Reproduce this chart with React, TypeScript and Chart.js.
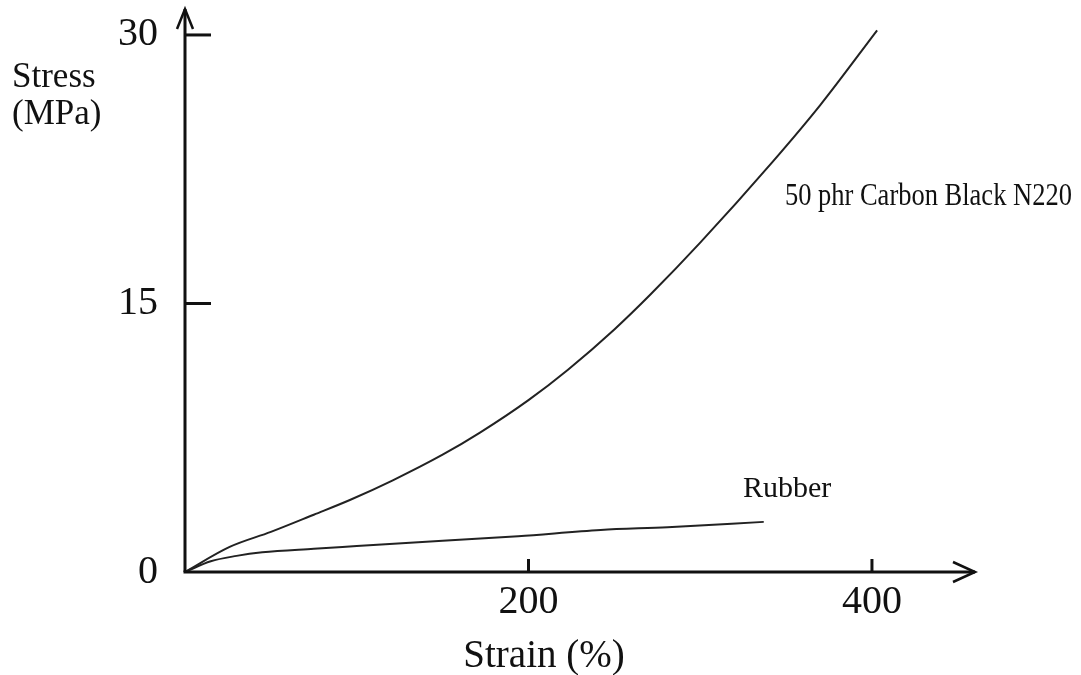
import React, { useEffect, useRef } from "react";
import { Chart, registerables } from "chart.js";

Chart.register(...registerables);

// Data
const strainCarbon = [0, 26, 50, 75, 96, 121, 150, 172, 200, 223, 250, 271, 300, 342, 370, 403];
const stressCarbon = [0, 1.4, 2.24, 3.2, 4.02, 5.12, 6.55, 7.8, 9.6, 11.3, 13.55, 15.5, 18.4, 22.9, 26.1, 30.26];
const strainRubber = [0, 15, 30, 45, 75, 100, 150, 194, 242, 281, 337];
const stressRubber = [0, 0.6, 0.9, 1.1, 1.3, 1.45, 1.75, 2.0, 2.35, 2.5, 2.8];
const xTicks = [200, 400];
const yTicks = [0, 15, 30];
const seriesNames = ["50 phr Carbon Black N220", "Rubber"];
const xTitle = "Strain (%)";
const yTitleLines = ["Stress", "(MPa)"];

const SERIF = "'Liberation Serif', 'Times New Roman', serif";
const INK = "#111";

const decorPlugin = {
  id: "decor",
  afterDraw(chart: any) {
    const { ctx, chartArea: a, scales } = chart;
    const x = scales.x;
    const y = scales.y;
    ctx.save();
    ctx.strokeStyle = INK;
    ctx.fillStyle = INK;
    ctx.lineWidth = 3;
    ctx.lineCap = "butt";
    ctx.lineJoin = "miter";
    // axes
    ctx.beginPath();
    ctx.moveTo(a.left, a.bottom);
    ctx.lineTo(a.left, a.top);
    ctx.stroke();
    ctx.beginPath();
    ctx.moveTo(a.left - 1.5, a.bottom);
    ctx.lineTo(a.right, a.bottom);
    ctx.stroke();
    // arrowheads
    ctx.lineWidth = 2.5;
    ctx.beginPath();
    ctx.moveTo(a.left - 8, a.top + 20);
    ctx.lineTo(a.left, a.top);
    ctx.lineTo(a.left + 8, a.top + 20);
    ctx.stroke();
    ctx.beginPath();
    ctx.moveTo(a.right - 22, a.bottom - 10);
    ctx.lineTo(a.right, a.bottom);
    ctx.lineTo(a.right - 22, a.bottom + 10);
    ctx.stroke();
    // inward tick marks
    ctx.lineWidth = 3;
    yTicks.forEach((v) => {
      if (v === 0) return;
      const py = y.getPixelForValue(v);
      ctx.beginPath();
      ctx.moveTo(a.left, py);
      ctx.lineTo(a.left + 26, py);
      ctx.stroke();
    });
    xTicks.forEach((v) => {
      const px = x.getPixelForValue(v);
      ctx.beginPath();
      ctx.moveTo(px, a.bottom);
      ctx.lineTo(px, a.bottom - 13);
      ctx.stroke();
    });
    // axis titles
    ctx.textBaseline = "alphabetic";
    ctx.textAlign = "left";
    ctx.font = `35px ${SERIF}`;
    ctx.fillText(yTitleLines[0], 12, 87);
    ctx.fillText(yTitleLines[1], 12, 124);
    ctx.textAlign = "center";
    ctx.font = `39px ${SERIF}`;
    ctx.fillText(xTitle, 544, 667);
    // series annotations (anchored in data coordinates)
    ctx.textAlign = "left";
    ctx.font = `32px ${SERIF}`;
    const cx = x.getPixelForValue(349.3);
    const cy = y.getPixelForValue(20.5);
    const natural = ctx.measureText(seriesNames[0]).width;
    ctx.save();
    ctx.translate(cx, cy);
    ctx.scale(287 / natural, 1);
    ctx.fillText(seriesNames[0], 0, 0);
    ctx.restore();
    ctx.font = `30px ${SERIF}`;
    ctx.fillText(seriesNames[1], x.getPixelForValue(324.9), y.getPixelForValue(4.19));
    ctx.restore();
  },
};

export default function App() {
  const ref = useRef<HTMLCanvasElement | null>(null);
  useEffect(() => {
    document.body.style.margin = "0";
    const canvas = ref.current;
    if (!canvas) return;
    const chart = new Chart(canvas, {
      type: "line",
      data: {
        datasets: [
          {
            label: seriesNames[0],
            data: strainCarbon.map((v, i) => ({ x: v, y: stressCarbon[i] })),
            borderColor: "#222",
            borderWidth: 2,
            pointRadius: 0,
            cubicInterpolationMode: "monotone",
            fill: false,
          },
          {
            label: seriesNames[1],
            data: strainRubber.map((v, i) => ({ x: v, y: stressRubber[i] })),
            borderColor: "#222",
            borderWidth: 2,
            pointRadius: 0,
            cubicInterpolationMode: "monotone",
            fill: false,
          },
        ],
      },
      options: {
        animation: false,
        responsive: true,
        maintainAspectRatio: false,
        layout: { padding: { left: 0, right: 106, top: 9, bottom: 0 } },
        plugins: { legend: { display: false }, tooltip: { enabled: false } },
        scales: {
          x: {
            type: "linear",
            min: 0,
            max: 460,
            afterBuildTicks: (s: any) => {
              s.ticks = xTicks.map((v) => ({ value: v }));
            },
            afterFit: (s: any) => {
              s.height = 103;
              s.paddingLeft = 0;
              s.paddingRight = 0;
            },
            ticks: {
              font: { family: SERIF, size: 40 },
              color: INK,
              padding: 6,
              maxRotation: 0,
              autoSkip: false,
            },
            grid: { display: false, drawTicks: false },
            border: { display: false },
          },
          y: {
            type: "linear",
            min: 0,
            max: 31.45,
            afterBuildTicks: (s: any) => {
              s.ticks = yTicks.map((v) => ({ value: v }));
            },
            afterFit: (s: any) => {
              s.width = 185;
              s.paddingTop = 0;
              s.paddingBottom = 0;
            },
            ticks: {
              font: { family: SERIF, size: 40 },
              color: INK,
              padding: 27,
              autoSkip: false,
            },
            grid: { display: false, drawTicks: false },
            border: { display: false },
          },
        },
      },
      plugins: [decorPlugin],
    });
    return () => chart.destroy();
  }, []);
  return (
    <div
      style={{
        position: "fixed",
        left: 0,
        top: 0,
        width: 1081,
        height: 675,
        background: "#fff",
      }}
    >
      <canvas ref={ref} />
    </div>
  );
}
